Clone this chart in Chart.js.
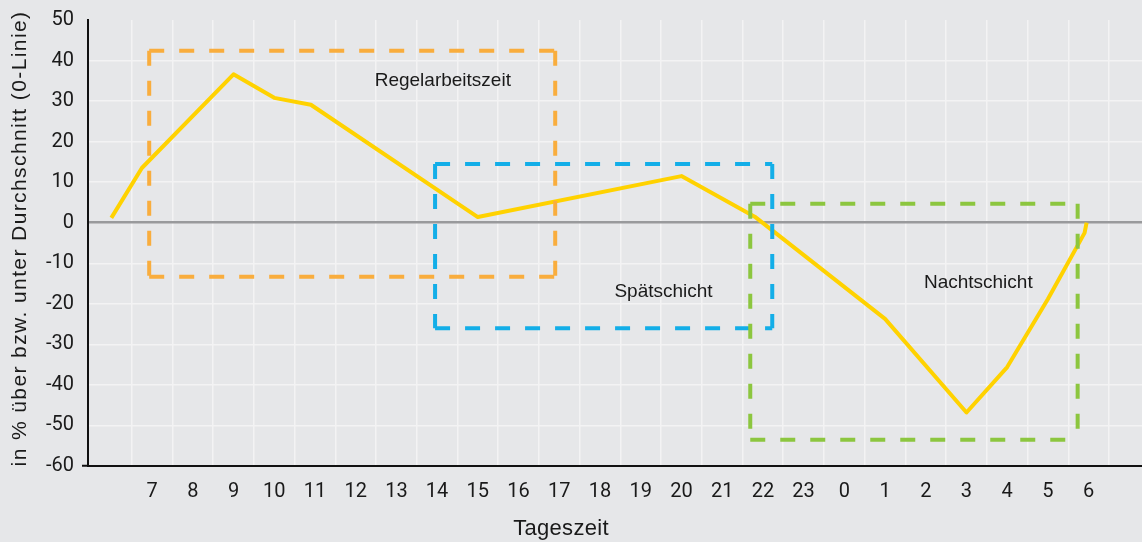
<!DOCTYPE html>
<html>
<head>
<meta charset="utf-8">
<script src="https://cdn.jsdelivr.net/npm/chart.js@4/dist/chart.umd.min.js"></script>
<style>
  html, body { margin: 0; padding: 0; background: #e6e7e9; }
  #wrap { width: 1142px; height: 542px; position: relative; }
</style>
</head>
<body>
<div id="wrap"><canvas id="c" width="1142" height="542"></canvas></div>
<script>
// ---- data ----
const hours  = [6, 6.75, 9, 10, 10.9, 15, 20, 21.8, 25, 27, 28, 29, 29.9, 29.95];
const values = [1.2, 13.5, 36.6, 30.8, 29.1, 1.4, 11.5, 1.5, -23.7, -46.8, -35.6, -18.8, -2.5, 0];
const tickHours  = [7,8,9,10,11,12,13,14,15,16,17,18,19,20,21,22,23,24,25,26,27,28,29,30];
const tickLabels = ['7','8','9','10','11','12','13','14','15','16','17','18','19','20','21','22','23','0','1','2','3','4','5','6'];
const shiftNames  = ['Regelarbeitszeit', 'Spätschicht', 'Nachtschicht'];
const shiftStart  = [6.93, 13.95, 21.69];
const shiftEnd    = [16.9, 22.23, 29.73];
const shiftTop    = [42.4, 14.5, 4.7];
const shiftBottom = [-13.3, -26, -53.5];
const labelHour   = [14.14, 19.56, 27.29];
const labelValue  = [35.1, -17, -14.9];
const yTitle = 'in % über bzw. unter Durchschnitt (0-Linie)';
const xTitle = 'Tageszeit';

// ---- styles ----
const shiftColors = ['#f9ad3d', '#13aee8', '#8cc63f'];
const tickFont = "Roboto, 'Liberation Sans', sans-serif";
const textFont = "'Liberation Sans', Arial, sans-serif";

const shiftPlugin = {
  id: 'shifts',
  afterDatasetsDraw(chart) {
    const {ctx, scales: {x, y}} = chart;
    ctx.save();
    ctx.lineWidth = 4;
    ctx.setLineDash([15, 15]);
    for (let i = 0; i < shiftNames.length; i++) {
      const x0 = x.getPixelForValue(shiftStart[i]);
      const x1 = x.getPixelForValue(shiftEnd[i]);
      const y0 = y.getPixelForValue(shiftTop[i]);
      const y1 = y.getPixelForValue(shiftBottom[i]);
      ctx.strokeStyle = shiftColors[i];
      ctx.beginPath();
      ctx.moveTo(x0, y0); ctx.lineTo(x1, y0);
      ctx.moveTo(x1, y0); ctx.lineTo(x1, y1);
      ctx.moveTo(x0, y0); ctx.lineTo(x0, y1);
      ctx.moveTo(x0, y1); ctx.lineTo(x1, y1);
      ctx.stroke();
    }
    ctx.setLineDash([]);
    ctx.fillStyle = '#1a1a1a';
    ctx.font = '19px ' + textFont;
    ctx.textAlign = 'center';
    ctx.textBaseline = 'middle';
    for (let i = 0; i < shiftNames.length; i++) {
      ctx.fillText(shiftNames[i], x.getPixelForValue(labelHour[i]), y.getPixelForValue(labelValue[i]));
    }
    // axis titles
    ctx.font = '22px ' + textFont;
    ctx.letterSpacing = '0.3px';
    ctx.fillText(xTitle, 561, 529);
    ctx.translate(20, 238.5);
    ctx.rotate(-Math.PI / 2);
    ctx.font = '21px ' + textFont;
    ctx.letterSpacing = '1.4px';
    ctx.fillText(yTitle, 0, 0);
    ctx.restore();
  }
};

new Chart(document.getElementById('c'), {
  type: 'line',
  data: {
    datasets: [{
      data: hours.map((h, i) => ({x: h, y: values[i]})),
      borderColor: '#ffd200',
      borderWidth: 4,
      pointRadius: 0,
      tension: 0,
      borderJoinStyle: 'round',
      fill: false
    }]
  },
  options: {
    responsive: false,
    animation: false,
    layout: { padding: { top: 17, right: 0, left: 0, bottom: 0 } },
    plugins: { legend: { display: false }, tooltip: { enabled: false } },
    scales: {
      x: {
        type: 'linear',
        min: 5.427,
        max: 31.31,
        afterBuildTicks: (s) => { s.ticks = tickHours.map(v => ({value: v})); },
        afterFit: (s) => { s.height = 76; },
        ticks: {
          autoSkip: false,
          maxRotation: 0,
          padding: 14,
          color: '#1a1a1a',
          font: { family: tickFont, size: 20 },
          callback: (v, i) => tickLabels[i]
        },
        grid: { offset: true, color: '#f3f3f4', lineWidth: 1.5, drawTicks: false },
        border: { display: true, color: '#111', width: 2 }
      },
      y: {
        min: -60,
        max: 50,
        afterFit: (s) => { s.width = 88; },
        ticks: {
          stepSize: 10,
          padding: 8,
          color: '#1a1a1a',
          font: { family: tickFont, size: 20 }
        },
        grid: {
          color: (c) => c.tick.value === 0 ? '#999a9c' : (c.tick.value === 50 || c.tick.value === -60 ? 'rgba(0,0,0,0)' : '#f3f3f4'),
          lineWidth: (c) => c.tick.value === 0 ? 2.5 : 1.5,
          tickLength: 6,
          tickColor: (c) => c.tick.value === -60 ? '#111' : 'rgba(0,0,0,0)',
          tickWidth: 2
        },
        border: { display: true, color: '#111', width: 2 }
      }
    }
  },
  plugins: [shiftPlugin]
});
</script>
</body>
</html>
